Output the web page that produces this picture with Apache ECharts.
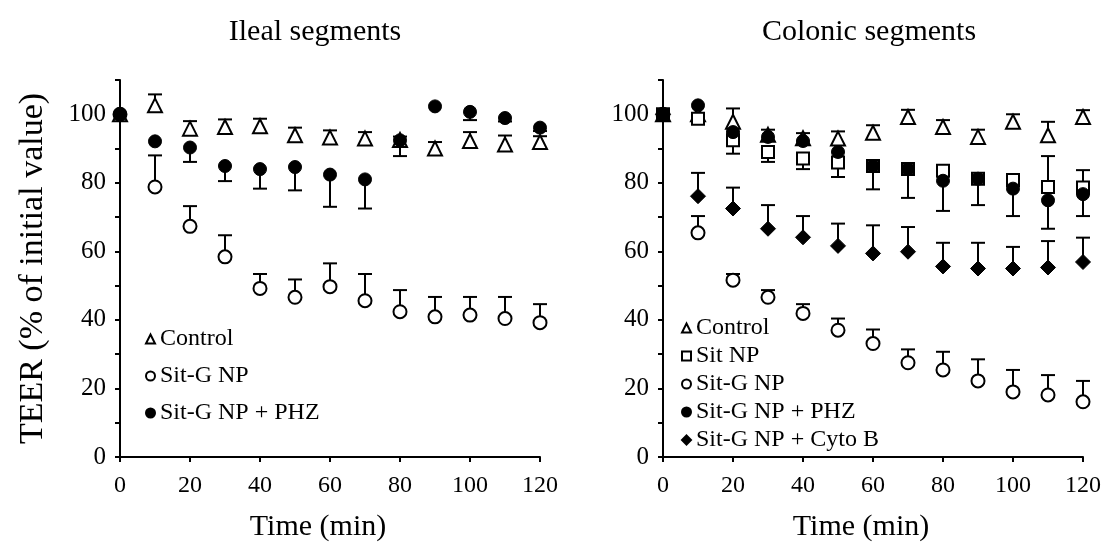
<!DOCTYPE html>
<html>
<head>
<meta charset="utf-8">
<script src="https://cdn.jsdelivr.net/npm/echarts@6/dist/echarts.min.js"></script>
<style>
  html, body { margin: 0; padding: 0; background: #fff; }
  #chart { width: 1109px; height: 544px; }
</style>
</head>
<body>
<div id="chart"></div>
<script>
// time points (min)
const times = [0, 10, 20, 30, 40, 50, 60, 70, 80, 90, 100, 110, 120]
const yTicks = [0, 20, 40, 60, 80, 100]

// Ileal segments
const ilealControl = [100, 102.6, 95.8, 96.3, 96.5, 93.9, 93.2, 92.9, 92.5, 90, 92.2, 91.2, 91.9]
const ilealControlErr = [0, 3.2, 2.2, 2.2, 2.2, 2.2, 2.1, 1.9, 1, 1.9, 2.6, 2.6, 1.7]
const ilealSitG = [100, 78.8, 67.3, 58.4, 49.2, 46.6, 49.7, 45.6, 42.4, 40.9, 41.4, 40.4, 39.2]
const ilealSitGErr = [0, 9.2, 5.9, 6.3, 4.2, 5.2, 6.8, 7.8, 6.3, 5.8, 5.3, 6.3, 5.4]
const ilealPHZ = [100, 92.1, 90.3, 84.9, 84, 84.6, 82.4, 81, 92.4, 102.3, 100.7, 98.9, 96.1]
const ilealPHZErr = [0, 0, -4.2, -4.4, -5.7, -6.8, -9.4, -8.5, -4.6, 0, -2.4, -1, -1]

// Colonic segments
const colonControl = [100, 100, 97.8, 94, 93, 92.9, 94.6, 99.2, 96.3, 93.4, 97.8, 93.9, 99.2]
const colonControlErr = [0, 0, 3.9, 1.5, 1.5, 2.1, 2.2, 2.1, 2, 2.1, 2.2, 3.9, 2]
const colonSitNP = [100, 98.7, 92.4, 89, 87.1, 85.9, 84.9, 84, 83.5, 81.2, 80.8, 78.8, 78.6]
const colonSitNPErr = [0, 0, -3.9, -2.9, -3.1, -4.2, 0, 0, 0, 0, 0, 9, 5.1]
const colonSitG = [100, 65.4, 51.6, 46.6, 41.9, 37, 33.1, 27.5, 25.4, 22.2, 19, 18.1, 16.1]
const colonSitGErr = [0, 4.9, 1.8, 2.1, 2.7, 3.4, 4.1, 3.9, 5.3, 6.3, 6.4, 5.8, 6.1]
const colonPHZ = [100, 102.6, 94.8, 93.4, 92.2, 89, 84.9, 84, 80.6, 81.2, 78.3, 74.9, 76.7]
const colonPHZErr = [0, 0, 0, 0, 0, 0, -6.8, -8.4, -8.8, -7.7, -8, -8.3, -6.4]
const colonCyto = [100, 76.1, 72.5, 66.6, 64.1, 61.6, 59.4, 59.9, 55.6, 55, 55, 55.3, 56.9]
const colonCytoErr = [0, 6.8, 6.1, 6.9, 6.2, 6.5, 8.2, 7.2, 6.9, 7.5, 6.3, 7.7, 7.1]

const FONT = '"Liberation Serif", "Times New Roman", serif'

const openStyle = { color: '#fff', borderColor: '#000', borderWidth: 2, opacity: 1 }
const fillStyle = { color: '#000', borderColor: '#000', borderWidth: 1, opacity: 1 }

function points(vals) {
  return times.map((t, i) => [t, vals[i]])
}

function errData(vals, errs) {
  const out = []
  times.forEach((t, i) => {
    if (errs[i] !== 0) out.push([t, vals[i], vals[i] + errs[i]])
  })
  return out
}

function renderErr(params, api) {
  const x = api.value(0)
  const p0 = api.coord([x, api.value(1)])
  const p1 = api.coord([x, api.value(2)])
  const w = 7
  const st = { stroke: '#000', lineWidth: 2 }
  return {
    type: 'group',
    children: [
      { type: 'line', shape: { x1: p0[0], y1: p0[1], x2: p1[0], y2: p1[1] }, style: st },
      { type: 'line', shape: { x1: p1[0] - w, y1: p1[1], x2: p1[0] + w, y2: p1[1] }, style: st }
    ]
  }
}

function errSeries(idx, vals, errs) {
  return {
    type: 'custom',
    xAxisIndex: idx,
    yAxisIndex: idx,
    renderItem: renderErr,
    encode: { x: 0, y: [1, 2] },
    data: errData(vals, errs),
    z: 1,
    silent: true
  }
}

function dots(idx, name, vals, symbol, size, style) {
  return {
    type: 'scatter',
    name: name,
    xAxisIndex: idx,
    yAxisIndex: idx,
    symbol: symbol,
    symbolSize: size,
    itemStyle: style,
    emphasis: { disabled: true },
    data: points(vals),
    z: 3
  }
}

const axisLine = { show: true, lineStyle: { color: '#000', width: 2 } }
const axisTick = { show: true, length: 5, lineStyle: { color: '#000', width: 2 } }

function xAx(idx) {
  return {
    type: 'value',
    gridIndex: idx,
    min: 0,
    max: 120,
    interval: 20,
    name: 'Time (min)',
    nameLocation: 'middle',
    nameGap: 55,
    nameTextStyle: { fontFamily: FONT, fontSize: 30, color: '#000', padding: [0, 24, 0, 0] },
    axisLine: axisLine,
    axisTick: axisTick,
    splitLine: { show: false },
    axisLabel: { fontFamily: FONT, fontSize: 24, color: '#000', margin: 17 }
  }
}

function yAx(idx, withName) {
  return {
    type: 'value',
    gridIndex: idx,
    min: 0,
    max: 110,
    interval: 10,
    name: withName ? 'TEER (% of initial value)' : '',
    nameLocation: 'middle',
    nameGap: 70,
    nameTextStyle: { fontFamily: FONT, fontSize: 34, color: '#000' },
    axisLine: axisLine,
    axisTick: axisTick,
    splitLine: { show: false },
    axisLabel: {
      fontFamily: FONT, fontSize: 25, color: '#000', margin: 14,
      formatter: v => (yTicks.indexOf(v) >= 0 ? String(v) : '')
    }
  }
}

const chart = echarts.init(document.getElementById('chart'), null, { renderer: 'canvas' })
chart.setOption({
  animation: false,
  backgroundColor: '#fff',
  title: [
    { text: 'Ileal segments', left: 310, top: 12, textAlign: 'center',
      textStyle: { fontFamily: FONT, fontSize: 30, fontWeight: 'normal', color: '#000' } },
    { text: 'Colonic segments', left: 864, top: 12, textAlign: 'center',
      textStyle: { fontFamily: FONT, fontSize: 30, fontWeight: 'normal', color: '#000' } }
  ],
  legend: [
    {
      orient: 'vertical', left: 140, top: 322, itemGap: 13,
      itemWidth: 9, itemHeight: 9,
      textStyle: { fontFamily: FONT, fontSize: 24, color: '#000' },
      data: ['Control', 'Sit-G NP', 'Sit-G NP + PHZ'],
      selectedMode: false
    },
    {
      orient: 'vertical', left: 676, top: 311, itemGap: 4,
      itemWidth: 9, itemHeight: 9,
      textStyle: { fontFamily: FONT, fontSize: 24, color: '#000' },
      data: ['Control', 'Sit NP', 'Sit-G NP', 'Sit-G NP + PHZ', 'Sit-G NP + Cyto B'],
      selectedMode: false
    }
  ],
  grid: [
    { left: 120, top: 80, width: 420, height: 377, outerBoundsMode: 'none', containLabel: false },
    { left: 663, top: 80, width: 420, height: 377, outerBoundsMode: 'none', containLabel: false }
  ],
  xAxis: [xAx(0), xAx(1)],
  yAxis: [yAx(0, true), yAx(1, false)],
  series: [
    errSeries(0, ilealControl, ilealControlErr),
    errSeries(0, ilealSitG, ilealSitGErr),
    errSeries(0, ilealPHZ, ilealPHZErr),
    dots(0, 'Control', ilealControl, 'triangle', 14, openStyle),
    dots(0, 'Sit-G NP', ilealSitG, 'circle', 13, openStyle),
    dots(0, 'Sit-G NP + PHZ', ilealPHZ, 'circle', 13, fillStyle),

    errSeries(1, colonControl, colonControlErr),
    errSeries(1, colonSitNP, colonSitNPErr),
    errSeries(1, colonSitG, colonSitGErr),
    errSeries(1, colonPHZ, colonPHZErr),
    errSeries(1, colonCyto, colonCytoErr),
    dots(1, 'Control', colonControl, 'triangle', 14, openStyle),
    dots(1, 'Sit NP', colonSitNP, 'rect', 12, openStyle),
    dots(1, 'Sit-G NP', colonSitG, 'circle', 13, openStyle),
    dots(1, 'Sit-G NP + PHZ', colonPHZ, 'circle', 13, fillStyle),
    dots(1, 'Sit-G NP + Cyto B', colonCyto, 'diamond', 15, fillStyle)
  ]
})

window.onresize = function () {
  chart.resize()
}
</script>
</body>
</html>
